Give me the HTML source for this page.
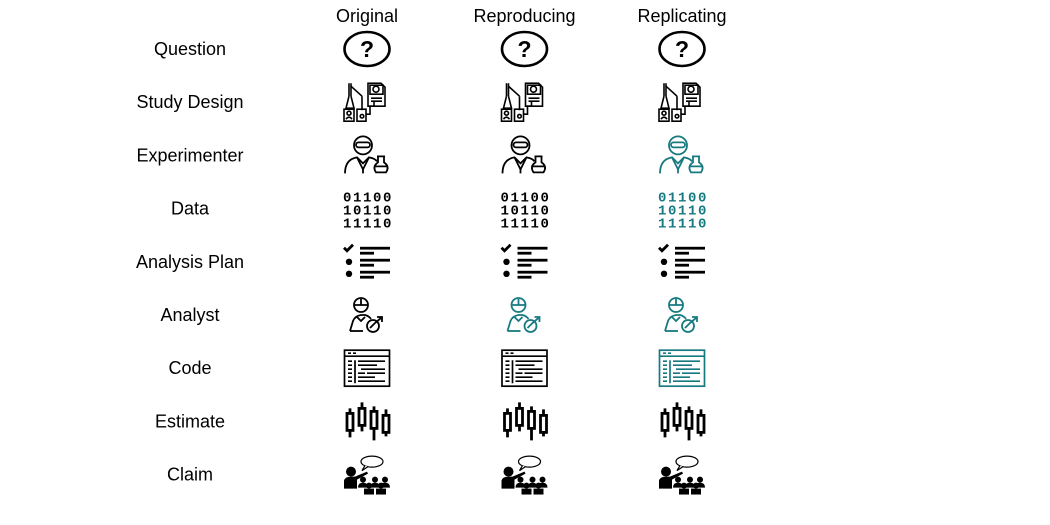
<!DOCTYPE html>
<html><head><meta charset="utf-8"><style>
html,body{margin:0;padding:0;background:#fff;}
svg{display:block;font-family:"Liberation Sans",sans-serif;}
</style></head><body>
<svg id="chart" width="1050" height="525" viewBox="0 0 1050 525">
<defs>
<symbol id="i-question" viewBox="-25 -20 50 40">
 <ellipse cx="0" cy="0" rx="22.5" ry="17" fill="none" stroke="currentColor" stroke-width="2.6"/>
 <text x="0" y="8" text-anchor="middle" font-size="23" font-weight="bold" font-family="Liberation Sans" fill="currentColor">?</text>
</symbol>
<symbol id="i-design" viewBox="-25 -20 50 40" fill="none" stroke="currentColor" stroke-width="1.6">
 <line x1="-18" y1="-19" x2="-18" y2="-6"/><line x1="-16" y1="-19" x2="-16" y2="-6"/>
 <path d="M-18 -6 L-21 6 L-13 6 L-16 -6"/>
 <line x1="-16" y1="-16" x2="-5" y2="-6"/><line x1="-5" y1="-6" x2="-5" y2="8"/>
 <rect x="-23" y="7" width="10" height="12"/><circle cx="-18" cy="11" r="2"/><path d="M-21 17 Q-18 13 -15 17"/>
 <rect x="-10" y="7" width="9" height="12"/><circle cx="-5" cy="14" r="1.8"/>
 <path d="M-1 12 L3 12 L3 4 L7 4 L7 -1"/>
 <path d="M1 -19 L14 -19 L18 -15 L18 4 L1 4 Z"/>
 <rect x="3" y="-17" width="13" height="9"/><circle cx="9" cy="-13" r="3"/>
 <line x1="4" y1="-4" x2="15" y2="-4"/><line x1="4" y1="-1" x2="15" y2="-1"/>
</symbol>
<symbol id="i-exp" viewBox="-25 -20 50 40" fill="none" stroke="currentColor" stroke-width="1.8">
 <circle cx="-4" cy="-10" r="9"/>
 <rect x="-11" y="-13" width="14" height="5" rx="2.5"/>
 <path d="M-22 18 Q-22 4 -10 2 L-4 8 L2 2 Q8 3 10 6"/>
 <path d="M-10 2 L-4 14 L2 2"/><line x1="-4" y1="14" x2="-4" y2="18"/>
 <path d="M11 1 L11 7 Q5 11 9 17 L19 17 Q23 11 17 7 L17 1"/><line x1="10" y1="1" x2="18" y2="1"/>
 <path d="M8 11 L20 11"/>
</symbol>
<symbol id="i-data" viewBox="-25 -20 50 40">
 <text font-family="Liberation Mono" font-weight="bold" font-size="14" fill="currentColor" text-anchor="middle" letter-spacing="1.6">
  <tspan x="1" y="-7">01100</tspan><tspan x="1" y="6">10110</tspan><tspan x="1" y="19">11110</tspan></text>
</symbol>
<symbol id="i-plan" viewBox="-25 -20 50 40" fill="currentColor">
 <path d="M-23 -14 L-20 -11 L-14 -17" fill="none" stroke="currentColor" stroke-width="2.8"/>
 <circle cx="-18" cy="0" r="3.2"/><circle cx="-18" cy="12" r="3.2"/>
 <rect x="-7" y="-15" width="30" height="2.8"/><rect x="-7" y="-10" width="14" height="2.8"/>
 <rect x="-7" y="-3" width="30" height="2.8"/><rect x="-7" y="2" width="14" height="2.8"/>
 <rect x="-7" y="9" width="30" height="2.8"/><rect x="-7" y="14" width="14" height="2.8"/>
</symbol>
<symbol id="i-analyst" viewBox="-25 -20 50 40" fill="none" stroke="currentColor" stroke-width="1.8">
 <circle cx="-6" cy="-10" r="7"/><path d="M-13 -10 L1 -10 M-6 -10 L-6 -16"/>
 <path d="M-17 16 L-14 6 Q-12 1 -6 0 L-2 0 Q2 1 4 4"/><path d="M-17 16 L-4 16"/>
 <path d="M-10 2 L-6 6 L-2 2"/>
 <circle cx="6" cy="11" r="6"/><path d="M3 13 L8 8 L14 3"/><path d="M10 2 L15 2 L15 7"/>
</symbol>
<symbol id="i-code" viewBox="-25 -20 50 40" fill="none" stroke="currentColor" stroke-width="1.7">
 <rect x="-22.5" y="-18" width="45" height="36"/><line x1="-22.5" y1="-12" x2="22.5" y2="-12"/>
 <path d="M-19 -15 L-16 -15 M-14 -15 L-11 -15"/>
 <line x1="-12" y1="-8" x2="-12" y2="15"/>
 <path d="M-19 -7 L-15 -7 M-19 -3 L-15 -3 M-19 1 L-15 1 M-19 5 L-15 5 M-19 9 L-15 9 M-19 13 L-15 13"/>
 <path d="M-9 -7 L18 -7 M-9 -3 L10 -3 M-6 1 L18 1 M-9 5 L-2 5 M0 5 L18 5 M-9 9 L8 9 M-9 13 L18 13"/>
</symbol>
<symbol id="i-est" viewBox="-25 -20 50 40" fill="none" stroke="currentColor" stroke-width="2.8">
 <line x1="-17" y1="-13" x2="-17" y2="16"/><rect x="-20" y="-8" width="6" height="17" fill="#fff"/>
 <line x1="-5" y1="-19" x2="-5" y2="10"/><rect x="-8" y="-13" width="6" height="17" fill="#fff"/>
 <line x1="7" y1="-15" x2="7" y2="19"/><rect x="4" y="-10" width="6" height="17" fill="#fff"/>
 <line x1="19" y1="-12" x2="19" y2="15"/><rect x="16" y="-6" width="6" height="17" fill="#fff"/>
</symbol>
<symbol id="i-claim" viewBox="-25 -20 50 40" fill="currentColor">
 <ellipse cx="5" cy="-13" rx="11" ry="5.5" fill="none" stroke="currentColor" stroke-width="1.2"/>
 <path d="M-2 -9 L-5 -4 L1 -8" fill="#fff" stroke="currentColor" stroke-width="1.2"/>
 <circle cx="-16" cy="-3" r="5"/>
 <path d="M-23 14 L-23 6 Q-22 2 -16 2 L-12 2 L0 -3 L1 -1 L-10 5 L-10 14 Z"/>
 <circle cx="-4" cy="5" r="3"/><path d="M-9 13 Q-9 8 -4 8 Q1 8 1 13 Z"/>
 <circle cx="8" cy="5" r="3"/><path d="M3 13 Q3 8 8 8 Q13 8 13 13 Z"/>
 <circle cx="18" cy="5" r="3"/><path d="M13 13 Q13 8 18 8 Q23 8 23 13 Z"/>
 <circle cx="2" cy="11" r="3"/><rect x="-3" y="14" width="10" height="6"/>
 <circle cx="14" cy="11" r="3"/><rect x="9" y="14" width="10" height="6"/>
</symbol>
</defs>
</svg>
<script>
const rowLabels = ["Question","Study Design","Experimenter","Data","Analysis Plan","Analyst","Code","Estimate","Claim"];
const rowIcons = ["i-question","i-design","i-exp","i-data","i-plan","i-analyst","i-code","i-est","i-claim"];
const columns = ["Original","Reproducing","Replicating"];
// 1 = changed (teal), 0 = same (black)
const changedOriginal = [0,0,0,0,0,0,0,0,0];
const changedReproducing = [0,0,0,0,0,1,0,0,0];
const changedReplicating = [0,0,1,1,0,1,1,0,0];
const changedByCol = [changedOriginal, changedReproducing, changedReplicating];

const NS = "http://www.w3.org/2000/svg";
const svg = document.getElementById("chart");
const colX = i => 367 + i * 157.5;
const rowY = i => 49 + i * 53.2;
const labelX = 190;

columns.forEach((c, j) => {
  const t = document.createElementNS(NS, "text");
  t.setAttribute("x", colX(j)); t.setAttribute("y", 22);
  t.setAttribute("text-anchor", "middle"); t.setAttribute("font-size", "18");
  t.setAttribute("fill", "#000");
  
  
  t.textContent = c;
  svg.appendChild(t);
});

rowLabels.forEach((lab, i) => {
  const t = document.createElementNS(NS, "text");
  t.setAttribute("x", labelX); t.setAttribute("y", rowY(i) + 6);
  t.setAttribute("text-anchor", "middle"); t.setAttribute("font-size", "18");
  t.setAttribute("fill", "#000");
  
  
  t.textContent = lab;
  svg.appendChild(t);
  columns.forEach((c, j) => {
    const u = document.createElementNS(NS, "use");
    u.setAttribute("href", "#" + rowIcons[i]);
    u.setAttribute("x", colX(j) - 25); u.setAttribute("y", rowY(i) - 20);
    u.setAttribute("width", 50); u.setAttribute("height", 40);
    u.setAttribute("color", changedByCol[j][i] ? "#177a80" : "#000");
    
    
    svg.appendChild(u);
  });
});
</script>
</body></html>
